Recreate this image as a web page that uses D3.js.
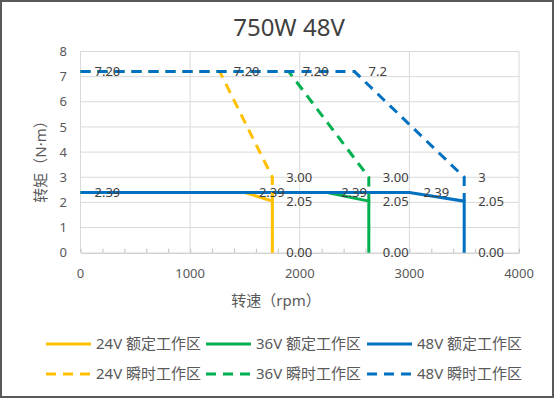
<!DOCTYPE html>
<html>
<head>
<meta charset="utf-8">
<script src="https://cdn.jsdelivr.net/npm/d3@7"></script>
<style>
  body { margin: 0; background: #fff; }
  text { font-family: "Noto Sans", "Noto Sans CJK SC", sans-serif; }
</style>
</head>
<body>
<div id="chart"></div>
<script>
// datos (rpm, N·m)
var xTicks = [0, 1000, 2000, 3000, 4000];
var yTicks = [0, 1, 2, 3, 4, 5, 6, 7, 8];

var rated24 = [[0, 2.39], [1500, 2.39], [1750, 2.05], [1750, 0]];
var rated36 = [[0, 2.39], [2250, 2.39], [2630, 2.05], [2630, 0]];
var rated48 = [[0, 2.39], [3000, 2.39], [3500, 2.05], [3500, 0]];
var peak24 = [[0, 7.2], [1270, 7.2], [1750, 3.0], [1750, 2.05]];
var peak36 = [[0, 7.2], [1900, 7.2], [2630, 3.0], [2630, 2.05]];
var peak48 = [[0, 7.2], [2500, 7.2], [3500, 3.0], [3500, 2.05]];

var rated24Labels = ["2.39", "2.39", "2.05", "0.00"];
var rated36Labels = ["2.39", "2.39", "2.05", "0.00"];
var rated48Labels = ["2.39", "2.39", "2.05", "0.00"];
var peak24Labels = ["7.20", "7.20", "3.00", ""];
var peak36Labels = ["7.20", "7.20", "3.00", ""];
var peak48Labels = ["7.2", "7.2", "3", ""];

var series = [
  {name: "24V 额定工作区", data: rated24, labels: rated24Labels, color: "#FFC000", dash: null},
  {name: "36V 额定工作区", data: rated36, labels: rated36Labels, color: "#00B050", dash: null},
  {name: "48V 额定工作区", data: rated48, labels: rated48Labels, color: "#0070C0", dash: null},
  {name: "24V 瞬时工作区", data: peak24, labels: peak24Labels, color: "#FFC000", dash: "10,7"},
  {name: "36V 瞬时工作区", data: peak36, labels: peak36Labels, color: "#00B050", dash: "10,7"},
  {name: "48V 瞬时工作区", data: peak48, labels: peak48Labels, color: "#0070C0", dash: "10,7"}
];

var width = 554, height = 398;
var margin = {top: 51.5, right: 35, bottom: 145.3, left: 80.5};

var x = d3.scaleLinear().domain([0, 4000]).range([margin.left, width - margin.right]);
var y = d3.scaleLinear().domain([0, 8]).range([height - margin.bottom, margin.top]);

var svg = d3.select("#chart").append("svg")
  .attr("width", width)
  .attr("height", height);

// marco exterior
svg.append("rect")
  .attr("x", 1).attr("y", 1)
  .attr("width", width - 2).attr("height", height - 2)
  .attr("fill", "#fff")
  .attr("stroke", "#595959")
  .attr("stroke-width", 2);

// título
svg.append("text")
  .attr("x", 289).attr("y", 36)
  .attr("text-anchor", "middle")
  .attr("font-size", 24)
  .attr("fill", "#404040")
  .text("750W 48V");

// rejilla
svg.append("g").selectAll("line")
  .data(yTicks.slice(1))
  .enter().append("line")
  .attr("x1", x(0)).attr("x2", x(4000))
  .attr("y1", function(d) { return y(d); })
  .attr("y2", function(d) { return y(d); })
  .attr("stroke", "#d9d9d9").attr("stroke-width", 1);

svg.append("g").selectAll("line")
  .data(xTicks)
  .enter().append("line")
  .attr("x1", function(d) { return x(d); })
  .attr("x2", function(d) { return x(d); })
  .attr("y1", y(0)).attr("y2", y(8))
  .attr("stroke", "#d9d9d9").attr("stroke-width", 1);

// eje x con marcas menores
var xAxis = svg.append("g")
  .attr("transform", `translate(0,${y(0)})`)
  .call(d3.axisBottom(x).tickValues(d3.range(0, 4001, 200)).tickSizeInner(-4).tickSizeOuter(0).tickFormat(""));
xAxis.select(".domain").attr("stroke", "#bfbfbf");
xAxis.selectAll(".tick line").attr("stroke", "#bfbfbf");

svg.append("g").selectAll("text")
  .data(xTicks)
  .enter().append("text")
  .attr("x", function(d) { return x(d); })
  .attr("y", y(0) + 25)
  .attr("text-anchor", "middle")
  .attr("font-size", 13)
  .attr("fill", "#595959")
  .text(function(d) { return d; });

svg.append("g").selectAll("text")
  .data(yTicks)
  .enter().append("text")
  .attr("x", 67)
  .attr("y", function(d) { return y(d); })
  .attr("dy", "0.35em")
  .attr("text-anchor", "end")
  .attr("font-size", 13)
  .attr("fill", "#595959")
  .text(function(d) { return d; });

// títulos de ejes
svg.append("text")
  .attr("x", 276).attr("y", 306)
  .attr("text-anchor", "middle")
  .attr("font-size", 15)
  .attr("fill", "#595959")
  .text("转速（rpm）");

svg.append("text")
  .attr("transform", "translate(46,158) rotate(-90)")
  .attr("text-anchor", "middle")
  .attr("font-size", 15)
  .attr("fill", "#595959")
  .text("转矩（N·m）");

// líneas
var line = d3.line()
  .x(function(d) { return x(d[0]); })
  .y(function(d) { return y(d[1]); });

svg.append("g").selectAll("path")
  .data(series)
  .enter().append("path")
  .attr("d", function(s) { return line(s.data); })
  .attr("fill", "none")
  .attr("stroke", function(s) { return s.color; })
  .attr("stroke-width", 3)
  .attr("stroke-dasharray", function(s) { return s.dash; });

// etiquetas de datos (las que caen en el mismo punto se dibujan una vez)
var vistos = {};
var etiquetas = [];
series.forEach(function(s) {
  s.data.forEach(function(d, i) {
    var k = d[0] + "_" + d[1];
    if (s.labels[i] && !vistos[k]) {
      vistos[k] = true;
      etiquetas.push({p: d, t: s.labels[i]});
    }
  });
});

svg.append("g").selectAll("text")
  .data(etiquetas)
  .enter().append("text")
  .attr("x", function(d) { return x(d.p[0]) + 14; })
  .attr("y", function(d) { return y(d.p[1]); })
  .attr("dy", "0.35em")
  .attr("font-size", 13)
  .attr("fill", "#404040")
  .text(function(d) { return d.t; });

// leyenda
var legendX = [46, 206, 367];
var legendY = [344, 374];
series.forEach(function(s, i) {
  var lx = legendX[i % 3], ly = legendY[Math.floor(i / 3)];
  svg.append("line")
    .attr("x1", lx).attr("x2", lx + 45)
    .attr("y1", ly).attr("y2", ly)
    .attr("stroke", s.color)
    .attr("stroke-width", 3)
    .attr("stroke-dasharray", s.dash);
  svg.append("text")
    .attr("x", lx + 50).attr("y", ly)
    .attr("dy", "0.35em")
    .attr("font-size", 15)
    .attr("fill", "#595959")
    .text(s.name);
});
</script>
</body>
</html>
